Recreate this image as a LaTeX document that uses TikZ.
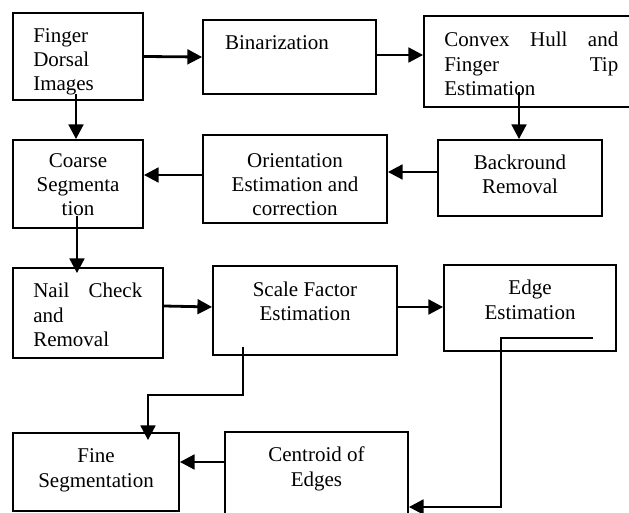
\documentclass[tikz,border=0pt]{standalone}
\usepackage{fontspec}
\setmainfont{Liberation Serif}
\usetikzlibrary{arrows.meta,calc}
\begin{document}
\begin{tikzpicture}[x=0.75pt,y=-0.75pt,
  box/.style={draw,line width=1.35pt,inner sep=0pt},
  txt/.style={inner sep=0pt,anchor=base,font=\fontsize{15.75pt}{18pt}\selectfont},
  ltxt/.style={txt,anchor=base west},
  arr/.style={line width=2.1pt,-{Triangle[length=11pt,width=11pt]}}]
\useasboundingbox (0,0) rectangle (629,513);
% boxes
\node[box,minimum width=97.5pt,minimum height=65.25pt] (b1) at (78,56.5) {};
\node[box,minimum width=129.75pt,minimum height=55.5pt] (b2) at (289.5,57) {};
\node[box,minimum width=162pt,minimum height=68.25pt] (b3) at (532,61.5) {};
\node[box,minimum width=123pt,minimum height=57pt] (b4) at (520,178) {};
\node[box,minimum width=138pt,minimum height=66pt] (b5) at (295,179) {};
\node[box,minimum width=97.5pt,minimum height=66pt] (b6) at (78,184) {};
\node[box,minimum width=112.5pt,minimum height=67.5pt] (b7) at (88,313) {};
\node[box,minimum width=138pt,minimum height=66.75pt] (b8) at (305,310.5) {};
\node[box,minimum width=129pt,minimum height=64.5pt] (b9) at (530,308) {};
\node[box,minimum width=124.5pt,minimum height=58.5pt] (b10) at (96,472) {};
\node[box,minimum width=137.25pt,minimum height=73.5pt] (b11) at (316.5,481) {};
% texts
\node[ltxt] (t1a) at (33,43) {Finger};
\node[ltxt] (t1b) at (33,67) {Dorsal};
\node[ltxt] (t1c) at (33,91) {Images};
\node[txt] (t2) at (277,50) {Binarization};
\node[ltxt] (t3a) at (444,47) {\makebox[130.5pt][s]{Convex\hfill Hull\hfill and}};
\node[ltxt] (t3b) at (444,72) {\makebox[130.5pt][s]{Finger\hfill Tip}};
\node[ltxt] (t3c) at (444,96) {Estimation};
\node[txt] (t4a) at (520,170) {Backround};
\node[txt] (t4b) at (520,194) {Removal};
\node[txt] (t5a) at (295,168) {Orientation};
\node[txt] (t5b) at (295,192) {Estimation and};
\node[txt] (t5c) at (295,216) {correction};
\node[txt] (t6a) at (78,168) {Coarse};
\node[txt] (t6b) at (78,192) {Segmenta};
\node[txt] (t6c) at (78,216) {tion};
\node[ltxt] (t7a) at (33,298) {\makebox[81.75pt][s]{Nail\hfill Check}};
\node[ltxt] (t7b) at (33,323) {and};
\node[ltxt] (t7c) at (33,347) {Removal};
\node[txt] (t8a) at (305,297) {Scale Factor};
\node[txt] (t8b) at (305,321) {Estimation};
\node[txt] (t9a) at (530,295) {Edge};
\node[txt] (t9b) at (530,320) {Estimation};
\node[txt] (t10a) at (96,463) {Fine};
\node[txt] (t10b) at (96,488) {Segmentation};
\node[txt] (t11a) at (316.5,462) {Centroid of};
\node[txt] (t11b) at (316.5,487) {Edges};
% connectors
\draw[arr] (b1.east) -- (b2.west);
\draw[arr] ($(b2.east)+(0,-2)$) -- ($(b3.west)+(0,-6.5)$);
\draw[arr] ($(b4.north)+(-1,-47)$) -- ($(b4.north)+(-1,0)$);
\draw[arr] ($(b4.west)+(0,-6)$) -- ($(b5.east)+(0,-7)$);
\draw[arr] ($(b5.west)+(0,-4)$) -- ($(b6.east)+(0,-9)$);
\draw[arr] ($(b1.south)+(-2,-7)$) -- ($(b6.north)+(-2,0)$);
\draw[arr] ($(b6.south)+(-1,-13)$) -- ($(b7.north)+(-11,6)$);
\draw[arr] ($(b7.east)+(0,-7)$) -- ($(b8.west)+(0,-3.5)$);
\draw[arr] ($(b8.east)+(0,-3.5)$) -- ($(b9.west)+(0,-1)$);
\draw[arr] ($(b8.center)+(-62,36.5)$) |- ($(b10.north)+(52,-37)$) -- ($(b10.north)+(52,8)$);
\draw[arr] ($(b11.west)+(0,-19)$) -- ($(b10.east)+(0,-10)$);
\draw[arr] ($(b9.center)+(63,30)$) -| ($(b11.east)+(92,26)$) -- ($(b11.east)+(0,26)$);
\end{tikzpicture}
\end{document}
